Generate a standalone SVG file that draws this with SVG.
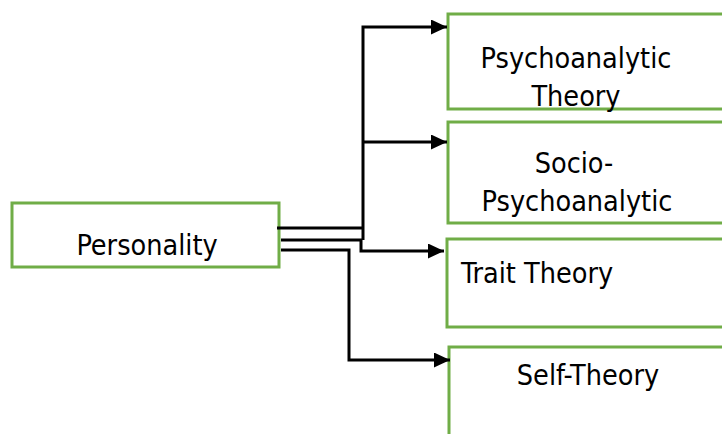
<svg xmlns="http://www.w3.org/2000/svg" width="722" height="434" viewBox="0 0 722 434">
<style>
.box{fill:#fff;stroke:#70AD47;stroke-width:3}
.t{font-family:"DejaVu Sans Condensed","DejaVu Sans","Liberation Sans",sans-serif;font-stretch:condensed;font-size:28.5px;fill:#000}
.c{fill:none;stroke:#000;stroke-width:3}
</style>
<defs>
<marker id="ah" viewBox="0 0 16 15" refX="16" refY="7.5" markerWidth="16" markerHeight="15" markerUnits="userSpaceOnUse" orient="auto">
<path d="M0,0 L16,7.5 L0,15 z" fill="#000"/>
</marker>
</defs>
<rect width="722" height="434" fill="#fff"/>
<g id="personality"><rect class="box" x="12" y="203" width="267" height="64"/><text class="t" x="147" y="255" text-anchor="middle">Personality</text></g>
<g id="psychoanalytic"><rect class="box" x="448" y="14" width="290" height="95"/><text class="t" x="576" y="68" text-anchor="middle">Psychoanalytic</text><text class="t" x="576" y="106" text-anchor="middle">Theory</text></g>
<g id="socio"><rect class="box" x="448" y="122" width="290" height="101"/><text class="t" x="574" y="173" text-anchor="middle">Socio-</text><text class="t" x="577" y="211" text-anchor="middle">Psychoanalytic</text></g>
<g id="trait"><rect class="box" x="447" y="239" width="290" height="88"/><text class="t" x="461" y="283">Trait Theory</text></g>
<g id="self"><rect class="box" x="449" y="347" width="290" height="100"/><text class="t" x="588" y="385" text-anchor="middle">Self-Theory</text></g>
<g id="connectors">
<path class="c" d="M277,228 H363" stroke-width="4"/>
<path class="c" d="M363,240 V27 H447" marker-end="url(#ah)" stroke-width="3.5"/>
<path class="c" d="M363,142 H447" marker-end="url(#ah)"/>
<path class="c" d="M281,240 H361 V251 H444" marker-end="url(#ah)"/>
<path class="c" d="M281,250 H349 V360 H450" marker-end="url(#ah)"/>
</g>
</svg>
